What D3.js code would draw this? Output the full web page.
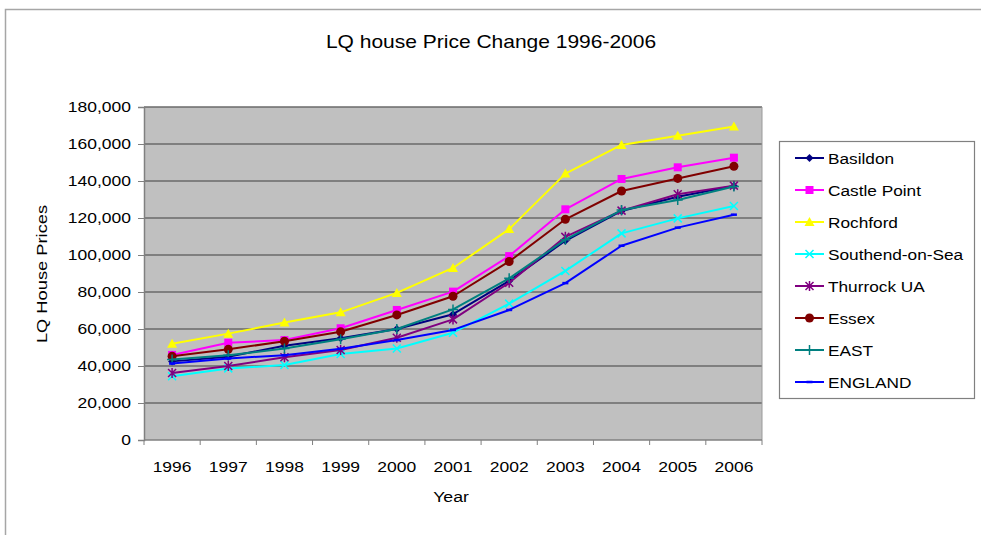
<!DOCTYPE html>
<html>
<head>
<meta charset="utf-8">
<script src="https://cdn.jsdelivr.net/npm/d3@7"></script>
<style>
  html, body { margin: 0; padding: 0; background: #ffffff; }
  svg { display: block; font-family: "Liberation Sans", Arial, sans-serif; }
</style>
</head>
<body>
<svg id="chart" width="981" height="535"></svg>
<script>
// Lower-quartile house prices by area, 1996-2006
const years = ["1996", "1997", "1998", "1999", "2000", "2001", "2002", "2003", "2004", "2005", "2006"];
const seriesNames = ["Basildon", "Castle Point", "Rochford", "Southend-on-Sea", "Thurrock UA", "Essex", "EAST", "ENGLAND"];

const basildon     = [42500, 45000, 51000, 55000, 60000, 68000, 86000, 107700, 123800, 131500, 137300];
const castlePoint  = [46000, 52600, 54000, 60400, 70300, 80200, 99400, 124700, 141100, 147400, 152600];
const rochford     = [52000, 57500, 63500, 69000, 79500, 93000, 114000, 144000, 159500, 164500, 169500];
const southend     = [34500, 38700, 40500, 46500, 49500, 58000, 73700, 91400, 111700, 119800, 126500];
const thurrock     = [36200, 40000, 44700, 48600, 55300, 65200, 85000, 109800, 124000, 132800, 137500];
const essex        = [45300, 49000, 53400, 58500, 67600, 77700, 96500, 119300, 134600, 141400, 148000];
const east         = [43500, 45800, 49500, 54500, 60000, 70600, 87400, 108300, 124300, 129700, 137000];
const england      = [41300, 44100, 45800, 49300, 54000, 59500, 70300, 84800, 105000, 114800, 121800];

const yTicks = [0, 20000, 40000, 60000, 80000, 100000, 120000, 140000, 160000, 180000];

const seriesValues = [basildon, castlePoint, rochford, southend, thurrock, essex, east, england];
const seriesColors = ["#000080", "#ff00ff", "#ffff00", "#00ffff", "#800080", "#800000", "#008080", "#0000ff"];
const seriesMarkers = ["diamond", "square", "triangle", "cross", "star", "circle", "plus", "dash"];

const svg = d3.select("#chart");

// text drawn with a slight horizontal widening
function label(parent, x, y, str, size, anchor, sx, rotate) {
  const g = parent.append("g")
    .attr("transform", `translate(${x},${y})` + (rotate ? ` rotate(${rotate})` : "") + ` scale(${sx},1)`);
  return g.append("text").attr("text-anchor", anchor).attr("font-size", size)
    .attr("fill", "#000").text(str);
}

// chart frame
svg.append("path")
  .attr("d", "M5.5,535 L5.5,9.5 L981,9.5")
  .attr("fill", "none").attr("stroke", "#a6a6a6").attr("stroke-width", 1.5);

const plot = { left: 144, right: 762, top: 107, bottom: 440 };

const x = d3.scaleBand().domain(years).range([plot.left, plot.right]).padding(0);
const y = d3.scaleLinear().domain([0, 180000]).range([plot.bottom, plot.top]);
const cx = d => x(d) + x.bandwidth() / 2;

// plot background
svg.append("rect")
  .attr("x", plot.left).attr("y", plot.top)
  .attr("width", plot.right - plot.left).attr("height", plot.bottom - plot.top)
  .attr("fill", "#c0c0c0");

// horizontal gridlines
svg.append("g").selectAll("line")
  .data(yTicks.filter(v => v > 0))
  .join("line")
  .attr("x1", plot.left).attr("x2", plot.right)
  .attr("y1", d => y(d)).attr("y2", d => y(d))
  .attr("stroke", "#6a6a6a").attr("stroke-width", 1.7);

// right edge of plot area
svg.append("line")
  .attr("x1", plot.right).attr("x2", plot.right)
  .attr("y1", plot.top).attr("y2", plot.bottom)
  .attr("stroke", "#9a9a9a").attr("stroke-width", 1);

// y axis
const tickSx = 1.25;
const yAxis = d3.axisLeft(y).tickValues(yTicks).tickSize(6).tickPadding(7)
  .tickFormat(d3.format(","));
const gy = svg.append("g").attr("transform", `translate(${plot.left},0)`).call(yAxis);
gy.select(".domain").attr("stroke", "#808080").attr("stroke-width", 1.5);
gy.selectAll(".tick line").attr("stroke", "#808080");
gy.selectAll(".tick text")
  .attr("font-size", 14).attr("fill", "#000")
  .attr("font-family", "Liberation Sans, Arial, sans-serif")
  .attr("x", -13 / tickSx)
  .attr("transform", `scale(${tickSx},1)`);

// x axis: ticks between categories, labels centred on each category
const gx = svg.append("g").attr("transform", `translate(0,${plot.bottom})`);
gx.append("line").attr("x1", plot.left).attr("x2", plot.right)
  .attr("stroke", "#808080").attr("stroke-width", 1.5);
const boundaries = years.map(d => x(d)).concat([plot.right]);
gx.selectAll(".bt").data(boundaries).join("line")
  .attr("x1", d => d).attr("x2", d => d).attr("y1", 0).attr("y2", 5)
  .attr("stroke", "#808080");
years.forEach(d => label(gx, cx(d), 32, d, 14, "middle", tickSx));

// titles
label(svg, 491, 48, "LQ house Price Change 1996-2006", 17.5, "middle", 1.2);
label(svg, 451, 502, "Year", 15, "middle", 1.18);
label(svg, 47, 274, "LQ House Prices", 15, "middle", 1.22, -90);

// marker shapes
function drawMarker(g, type, color) {
  switch (type) {
    case "diamond":
      g.append("path").attr("d", "M0,-4 L4,0 L0,4 L-4,0 Z").attr("fill", color); break;
    case "square":
      g.append("rect").attr("x", -4).attr("y", -4).attr("width", 8).attr("height", 8).attr("fill", color); break;
    case "triangle":
      g.append("path").attr("d", "M0,-5 L5,4 L-5,4 Z").attr("fill", color); break;
    case "circle":
      g.append("circle").attr("r", 4.5).attr("fill", color); break;
    case "cross":
      g.append("path").attr("d", "M-4,-4 L4,4 M-4,4 L4,-4").attr("stroke", color).attr("stroke-width", 1.5); break;
    case "star":
      g.append("path").attr("d", "M-4,-4 L4,4 M-4,4 L4,-4 M0,-5 L0,5").attr("stroke", color).attr("stroke-width", 1.5); break;
    case "plus":
      g.append("path").attr("d", "M-5,0 L5,0 M0,-5 L0,5").attr("stroke", color).attr("stroke-width", 1.5); break;
    case "dash":
      g.append("path").attr("d", "M-3,0 L3,0").attr("stroke", color).attr("stroke-width", 2.5); break;
  }
}

const line = d3.line().x((d, i) => cx(years[i])).y(d => y(d));

const gSeries = svg.append("g");
seriesNames.forEach((name, s) => {
  const vals = seriesValues[s];
  const g = gSeries.append("g");
  g.append("path").datum(vals).attr("d", line)
    .attr("fill", "none").attr("stroke", seriesColors[s]).attr("stroke-width", 2)
    .attr("stroke-linejoin", "round");
  vals.forEach((v, i) => {
    const m = g.append("g").attr("transform", `translate(${cx(years[i])},${y(v)})`);
    drawMarker(m, seriesMarkers[s], seriesColors[s]);
  });
});

// legend
const legend = svg.append("g");
legend.append("rect").attr("x", 779.5).attr("y", 141.5).attr("width", 195).attr("height", 257)
  .attr("fill", "#fff").attr("stroke", "#808080").attr("stroke-width", 1.2);
seriesNames.forEach((name, s) => {
  const ly = 158 + s * 32;
  legend.append("line").attr("x1", 795).attr("x2", 824).attr("y1", ly).attr("y2", ly)
    .attr("stroke", seriesColors[s]).attr("stroke-width", 2);
  const m = legend.append("g").attr("transform", `translate(809.5,${ly})`);
  drawMarker(m, seriesMarkers[s], seriesColors[s]);
  label(legend, 828, ly + 5.5, name, 15, "start", 1.15);
});
</script>
</body>
</html>
